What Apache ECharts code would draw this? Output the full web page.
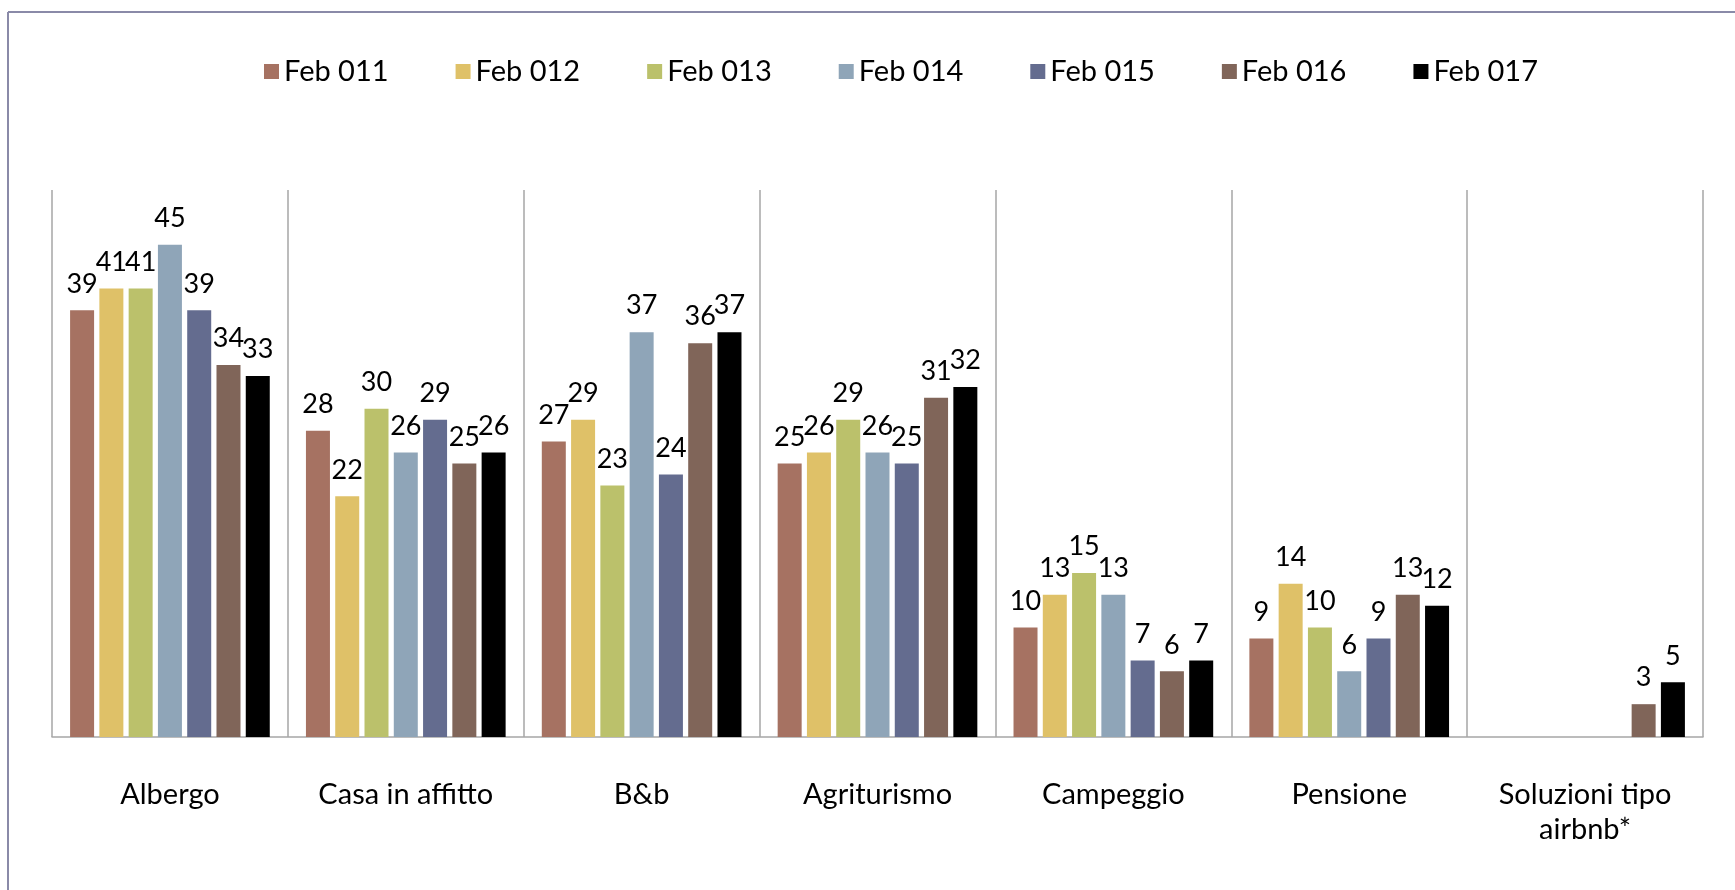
<!DOCTYPE html>
<html>
<head>
<meta charset="utf-8">
<title>Strutture ricettive</title>
<script src="https://cdn.jsdelivr.net/npm/echarts@6/dist/echarts.min.js"></script>
<style>
  html, body { margin: 0; padding: 0; background: #fff; }
  #chart { width: 1735px; height: 890px; }
</style>
</head>
<body>
<div id="chart"></div>
<script>
const categories = ['Albergo', 'Casa in affitto', 'B&b', 'Agriturismo', 'Campeggio', 'Pensione', 'Soluzioni tipo\nairbnb*'];
const seriesNames = ['Feb 011', 'Feb 012', 'Feb 013', 'Feb 014', 'Feb 015', 'Feb 016', 'Feb 017'];
const colors = ['#a67262', '#dfc168', '#bbc16b', '#8fa5b8', '#646c8f', '#806559', '#000000'];

const feb011 = [39, 28, 27, 25, 10, 9, null];
const feb012 = [41, 22, 29, 26, 13, 14, null];
const feb013 = [41, 30, 23, 29, 15, 10, null];
const feb014 = [45, 26, 37, 26, 13, 6, null];
const feb015 = [39, 29, 24, 25, 7, 9, null];
const feb016 = [34, 25, 36, 31, 6, 13, 3];
const feb017 = [33, 26, 37, 32, 7, 12, 5];

const values = [feb011, feb012, feb013, feb014, feb015, feb016, feb017];
const font = 'Lato, "Open Sans", sans-serif';

const chart = echarts.init(document.getElementById('chart'));

chart.setOption({
  animation: false,
  color: colors,
  textStyle: { fontFamily: font },
  graphic: [
    // frame of the original slide chart (top and left edges)
    { type: 'line', shape: { x1: 8, y1: 12, x2: 1735, y2: 12 }, style: { stroke: '#8a8aa8', lineWidth: 2 } },
    { type: 'line', shape: { x1: 8, y1: 12, x2: 8, y2: 890 }, style: { stroke: '#8a8aa8', lineWidth: 2 } }
  ],
  legend: {
    top: 52,
    left: 259,
    itemWidth: 15,
    itemHeight: 15,
    itemGap: 67,
    icon: 'rect',
    textStyle: { fontSize: 29, color: '#000', fontFamily: font },
    data: seriesNames
  },
  grid: { left: 52, right: 32, top: 190, bottom: 153 },
  xAxis: {
    type: 'category',
    data: categories,
    axisLine: { lineStyle: { color: '#a6a6a6', width: 1.5 } },
    axisTick: { show: false },
    splitLine: { show: true, lineStyle: { color: '#a6a6a6', width: 1.5 } },
    axisLabel: {
      interval: 0,
      margin: 40,
      fontSize: 29,
      lineHeight: 35,
      color: '#000',
      fontFamily: font
    }
  },
  yAxis: {
    type: 'value',
    min: 0,
    max: 50,
    show: false,
    splitLine: { show: false }
  },
  series: seriesNames.map((name, i) => ({
    name: name,
    type: 'bar',
    data: values[i],
    barWidth: 24,
    barGap: '22%',
    label: {
      show: true,
      position: 'top',
      distance: 13,
      fontSize: 27,
      color: '#000',
      fontFamily: font
    }
  }))
});
</script>
</body>
</html>
